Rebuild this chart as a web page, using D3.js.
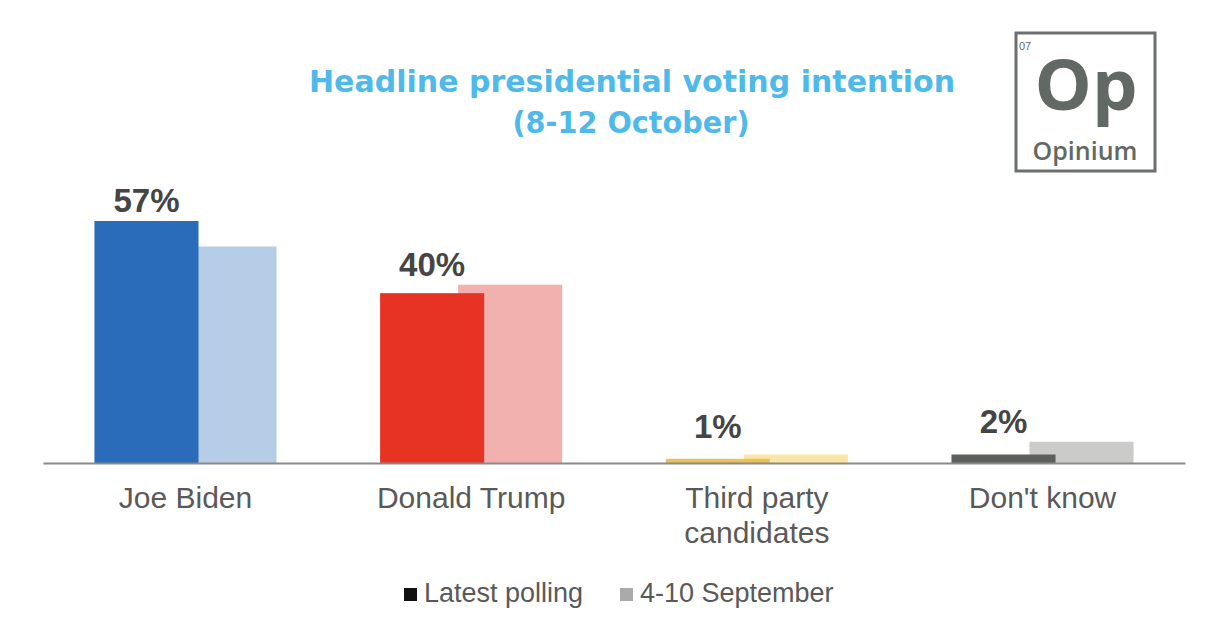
<!DOCTYPE html>
<html>
<head>
<meta charset="utf-8">
<script src="https://cdn.jsdelivr.net/npm/d3@7"></script>
<style>
  body { margin: 0; background: #fff; }
  svg { display: block; }
</style>
</head>
<body>
<div id="chart"></div>
<script>
// values
const categories = ["Joe Biden", "Donald Trump", "Third party candidates", "Don't know"];
const latest = [57, 40, 1, 2];
const september = [51, 42, 2, 5];
const seriesNames = ["Latest polling", "4-10 September"];

const latestColors = ["#2a6cb9", "#e63324", "#e9c158", "#5b605d"];
const septColors = ["#b5cde6", "#f2b1ae", "#fbe5a4", "#cbcbc9"];

const W = 1216, H = 640;
const baseY = 463;

const svg = d3.select('#chart').append('svg')
  .attr('width', W)
  .attr('height', H);

const x = d3.scaleBand()
  .domain(categories)
  .range([43, 1185])
  .paddingInner(0.3625)
  .paddingOuter(0.18);

const y = d3.scaleLinear()
  .domain([0, 57])
  .range([baseY, 221]);

// bars overlap: the later bar is shifted and sits behind the latest one
const barW = x.bandwidth() * 104 / 182;
const shift = d3.scalePoint()
  .domain(seriesNames)
  .range([0, x.bandwidth() - barW]);

const rows = categories.map((c, i) => ({ cat: c, latest: latest[i], sept: september[i], i }));

const bars = svg.append('g');

bars.selectAll('rect.sept')
  .data(rows)
  .enter().append('rect')
  .attr('class', 'sept')
  .attr('x', d => x(d.cat) + shift(seriesNames[1]))
  .attr('y', d => y(d.sept))
  .attr('width', barW)
  .attr('height', d => baseY - y(d.sept))
  .attr('fill', d => septColors[d.i]);

bars.selectAll('rect.latest')
  .data(rows)
  .enter().append('rect')
  .attr('class', 'latest')
  .attr('x', d => x(d.cat) + shift(seriesNames[0]))
  .attr('y', d => y(d.latest))
  .attr('width', barW)
  .attr('height', d => baseY - y(d.latest))
  .attr('fill', d => latestColors[d.i]);

// value labels over the latest bar
svg.append('g').selectAll('text')
  .data(rows)
  .enter().append('text')
  .attr('x', d => x(d.cat) + shift(seriesNames[0]) + barW / 2)
  .attr('y', d => y(Math.max(d.latest, d.sept)) - (d.latest < 3 && d.sept < 3 ? 17 : 9))
  .attr('text-anchor', 'middle')
  .style('font-family', 'Liberation Sans, Arial, sans-serif')
  .style('font-weight', 'bold')
  .style('font-size', '33px')
  .style('fill', '#454545')
  .text(d => d.latest + '%');

// axis baseline + category labels
const xAxis = svg.append('g')
  .attr('transform', `translate(0,${baseY})`)
  .call(d3.axisBottom(x).tickSize(0).tickPadding(0));

xAxis.select('.domain')
  .attr('stroke', '#8a8a8a')
  .attr('stroke-width', 2);

xAxis.selectAll('.tick text').remove();

xAxis.selectAll('.tick').each(function(c) {
  const lines = c === "Third party candidates" ? ["Third party", "candidates"] : [c];
  const t = d3.select(this).append('text')
    .attr('text-anchor', 'middle')
    .attr('fill', '#595959')
    .style('font-family', 'Liberation Sans, Arial, sans-serif')
    .style('font-size', '30px');
  lines.forEach((l, k) => {
    t.append('tspan').attr('x', 0).attr('y', 45 + k * 35).text(l);
  });
});

// title
const title = svg.append('g')
  .style('font-family', 'DejaVu Sans, Verdana, sans-serif')
  .style('font-weight', 'bold')
  .style('fill', '#4fb9e9')
  .attr('text-anchor', 'middle');

title.append('text')
  .attr('x', 632).attr('y', 92)
  .attr('textLength', 646).attr('lengthAdjust', 'spacingAndGlyphs')
  .style('font-size', '30px')
  .text('Headline presidential voting intention');

title.append('text')
  .attr('x', 631).attr('y', 133)
  .attr('textLength', 237).attr('lengthAdjust', 'spacingAndGlyphs')
  .style('font-size', '30px')
  .text('(8-12 October)');

// legend
const legend = svg.append('g')
  .style('font-family', 'Liberation Sans, Arial, sans-serif')
  .style('font-size', '27px')
  .style('fill', '#595959');

const legendItems = [
  { name: seriesNames[0], x: 404, color: '#111' },
  { name: seriesNames[1], x: 620, color: '#aaa' }
];

legendItems.forEach(it => {
  legend.append('rect')
    .attr('x', it.x).attr('y', 588)
    .attr('width', 13).attr('height', 13)
    .attr('fill', it.color);
  legend.append('text')
    .attr('x', it.x + 20).attr('y', 602)
    .text(it.name);
});

// Opinium logo
const logo = svg.append('g').style('fill', '#626864');
logo.append('rect')
  .attr('x', 1016).attr('y', 33)
  .attr('width', 139).attr('height', 138)
  .attr('fill', 'none')
  .attr('stroke', '#6b706d')
  .attr('stroke-width', 3);
logo.append('text')
  .attr('x', 1019).attr('y', 50)
  .style('font-family', 'Liberation Sans, Arial, sans-serif')
  .style('font-size', '11px')
  .text('07');
logo.append('text')
  .attr('x', 1086).attr('y', 110)
  .attr('text-anchor', 'middle')
  .style('font-family', 'Open Sans, sans-serif')
  .style('font-weight', '700')
  .style('font-size', '70px')
  .attr('textLength', 103).attr('lengthAdjust', 'spacingAndGlyphs')
  .text('Op');
logo.append('text')
  .attr('x', 1085).attr('y', 160)
  .attr('text-anchor', 'middle')
  .style('font-family', 'Open Sans, sans-serif')
  .style('font-weight', '600')
  .style('font-size', '25px')
  .text('Opinium');
</script>
</body>
</html>
